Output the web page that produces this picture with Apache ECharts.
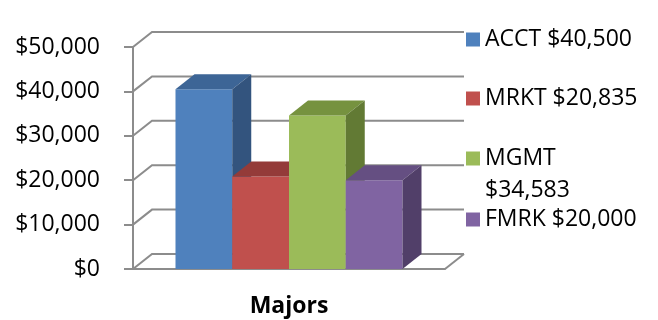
<!DOCTYPE html>
<html>
<head>
<meta charset="utf-8">
<script src="https://cdn.jsdelivr.net/npm/echarts@6/dist/echarts.min.js"></script>
<style>html,body{margin:0;padding:0;background:#fff}#c{width:658px;height:320px}</style>
</head>
<body>
<div id="c"></div>
<script>
// ---- data ----
var categories = ['Majors'];
var majors = ['ACCT', 'MRKT', 'MGMT', 'FMRK'];
var salaries = [40500, 20835, 34583, 20000];
var legendLabels = ['ACCT $40,500', 'MRKT $20,835', 'MGMT\n$34,583', 'FMRK $20,000'];
var yTicks = [0, 10000, 20000, 30000, 40000, 50000];

// ---- styles ----
var FRONT = ['#4F81BD', '#C0504D', '#9BBB59', '#8064A2'];
var TOP = ['#3D6596', '#943B39', '#76923F', '#654F82'];
var SIDE = ['#33547E', '#7E302E', '#627A34', '#513F69'];
var DX = 19, DY = -15;
var BAR_FRAC = 0.7276;
var GRID_COLOR = '#8C8C8C';
var FONT = '"Open Sans", sans-serif';

var chart = echarts.init(document.getElementById('c'), null, {renderer: 'canvas'});

function barRenderer(idx) {
  return function (params, api) {
    var v = api.value(1);
    var catW = api.size([1, 0])[0];
    var base = api.coord([api.value(0), 0]);
    var topPt = api.coord([api.value(0), v]);
    var totalW = catW * BAR_FRAC;
    var bw = totalW / majors.length;
    var x0 = base[0] - totalW / 2 + idx * bw;
    var x1 = x0 + bw;
    var yb = base[1], yt = topPt[1];
    return {
      type: 'group',
      children: [
        {type: 'polygon', shape: {points: [[x0, yb], [x1, yb], [x1, yt], [x0, yt]]}, style: {fill: FRONT[idx]}},
        {type: 'polygon', shape: {points: [[x0, yt], [x1, yt], [x1 + DX, yt + DY], [x0 + DX, yt + DY]]}, style: {fill: TOP[idx]}},
        {type: 'polygon', shape: {points: [[x1, yb], [x1 + DX, yb + DY], [x1 + DX, yt + DY], [x1, yt]]}, style: {fill: SIDE[idx]}}
      ]
    };
  };
}

function wallRenderer(params, api) {
  var cs = params.coordSys;
  var v = api.value(1);
  var y = api.coord([0, v])[1];
  var xl = cs.x, xr = cs.x + cs.width;
  var children = [{
    type: 'polyline',
    shape: {points: [[xl, y], [xl + DX, y + DY], [xr + DX, y + DY]]},
    style: {stroke: GRID_COLOR, lineWidth: 2, fill: null}
  }];
  if (v === 0) {
    children.push({
      type: 'line',
      shape: {x1: xr, y1: y, x2: xr + DX, y2: y + DY},
      style: {stroke: GRID_COLOR, lineWidth: 2}
    });
  }
  return {type: 'group', children: children};
}

var series = [{
  name: 'walls',
  type: 'custom',
  z: 1,
  silent: true,
  renderItem: wallRenderer,
  data: yTicks.map(function (t) { return [0, t]; }),
  encode: {x: 0, y: 1}
}];
majors.forEach(function (m, i) {
  series.push({
    name: m,
    type: 'custom',
    z: 3,
    renderItem: barRenderer(i),
    itemStyle: {color: FRONT[i]},
    data: [[0, salaries[i]]],
    encode: {x: 0, y: 1}
  });
});

var legendCenters = [39.5, 98.5, 158.5, 219.5];
var legends = majors.map(function (m, i) {
  var multi = legendLabels[i].indexOf('\n') >= 0;
  return {
    data: [m],
    left: 466,
    top: multi ? legendCenters[i] - 48 : legendCenters[i] - 12,
    padding: 0,
    icon: 'rect',
    itemWidth: 14,
    itemHeight: 14,
    itemGap: 0,
    selectedMode: false,
    // multi-line entry: a blank leading line keeps the first line level with the icon
    formatter: function () { return multi ? ' \n' + legendLabels[i] : legendLabels[i]; },
    textStyle: multi ? {
      fontFamily: FONT, fontSize: 23, color: '#000', lineHeight: 32
    } : {
      fontFamily: FONT, fontSize: 23, color: '#000', lineHeight: 24
    }
  };
});

chart.setOption({
  animation: false,
  backgroundColor: '#fff',
  grid: {left: 133, right: 213, top: 47, bottom: 51, containLabel: false},
  legend: legends,
  xAxis: {
    type: 'category',
    data: categories,
    axisLine: {show: true, lineStyle: {color: GRID_COLOR, width: 2}},
    axisTick: {show: false},
    axisLabel: {fontFamily: FONT, fontSize: 23, fontWeight: 'bold', color: '#000', margin: 26},
    splitLine: {show: false}
  },
  yAxis: {
    type: 'value',
    min: 0,
    max: 50000,
    interval: 10000,
    axisLine: {show: true, lineStyle: {color: GRID_COLOR, width: 2}},
    axisTick: {show: true, length: 9, lineStyle: {color: GRID_COLOR, width: 2}},
    axisLabel: {
      fontFamily: FONT, fontSize: 23, color: '#000', margin: 33,
      formatter: function (v) { return '$' + v.toLocaleString('en-US'); }
    },
    splitLine: {show: false}
  },
  series: series
});
</script>
</body>
</html>
